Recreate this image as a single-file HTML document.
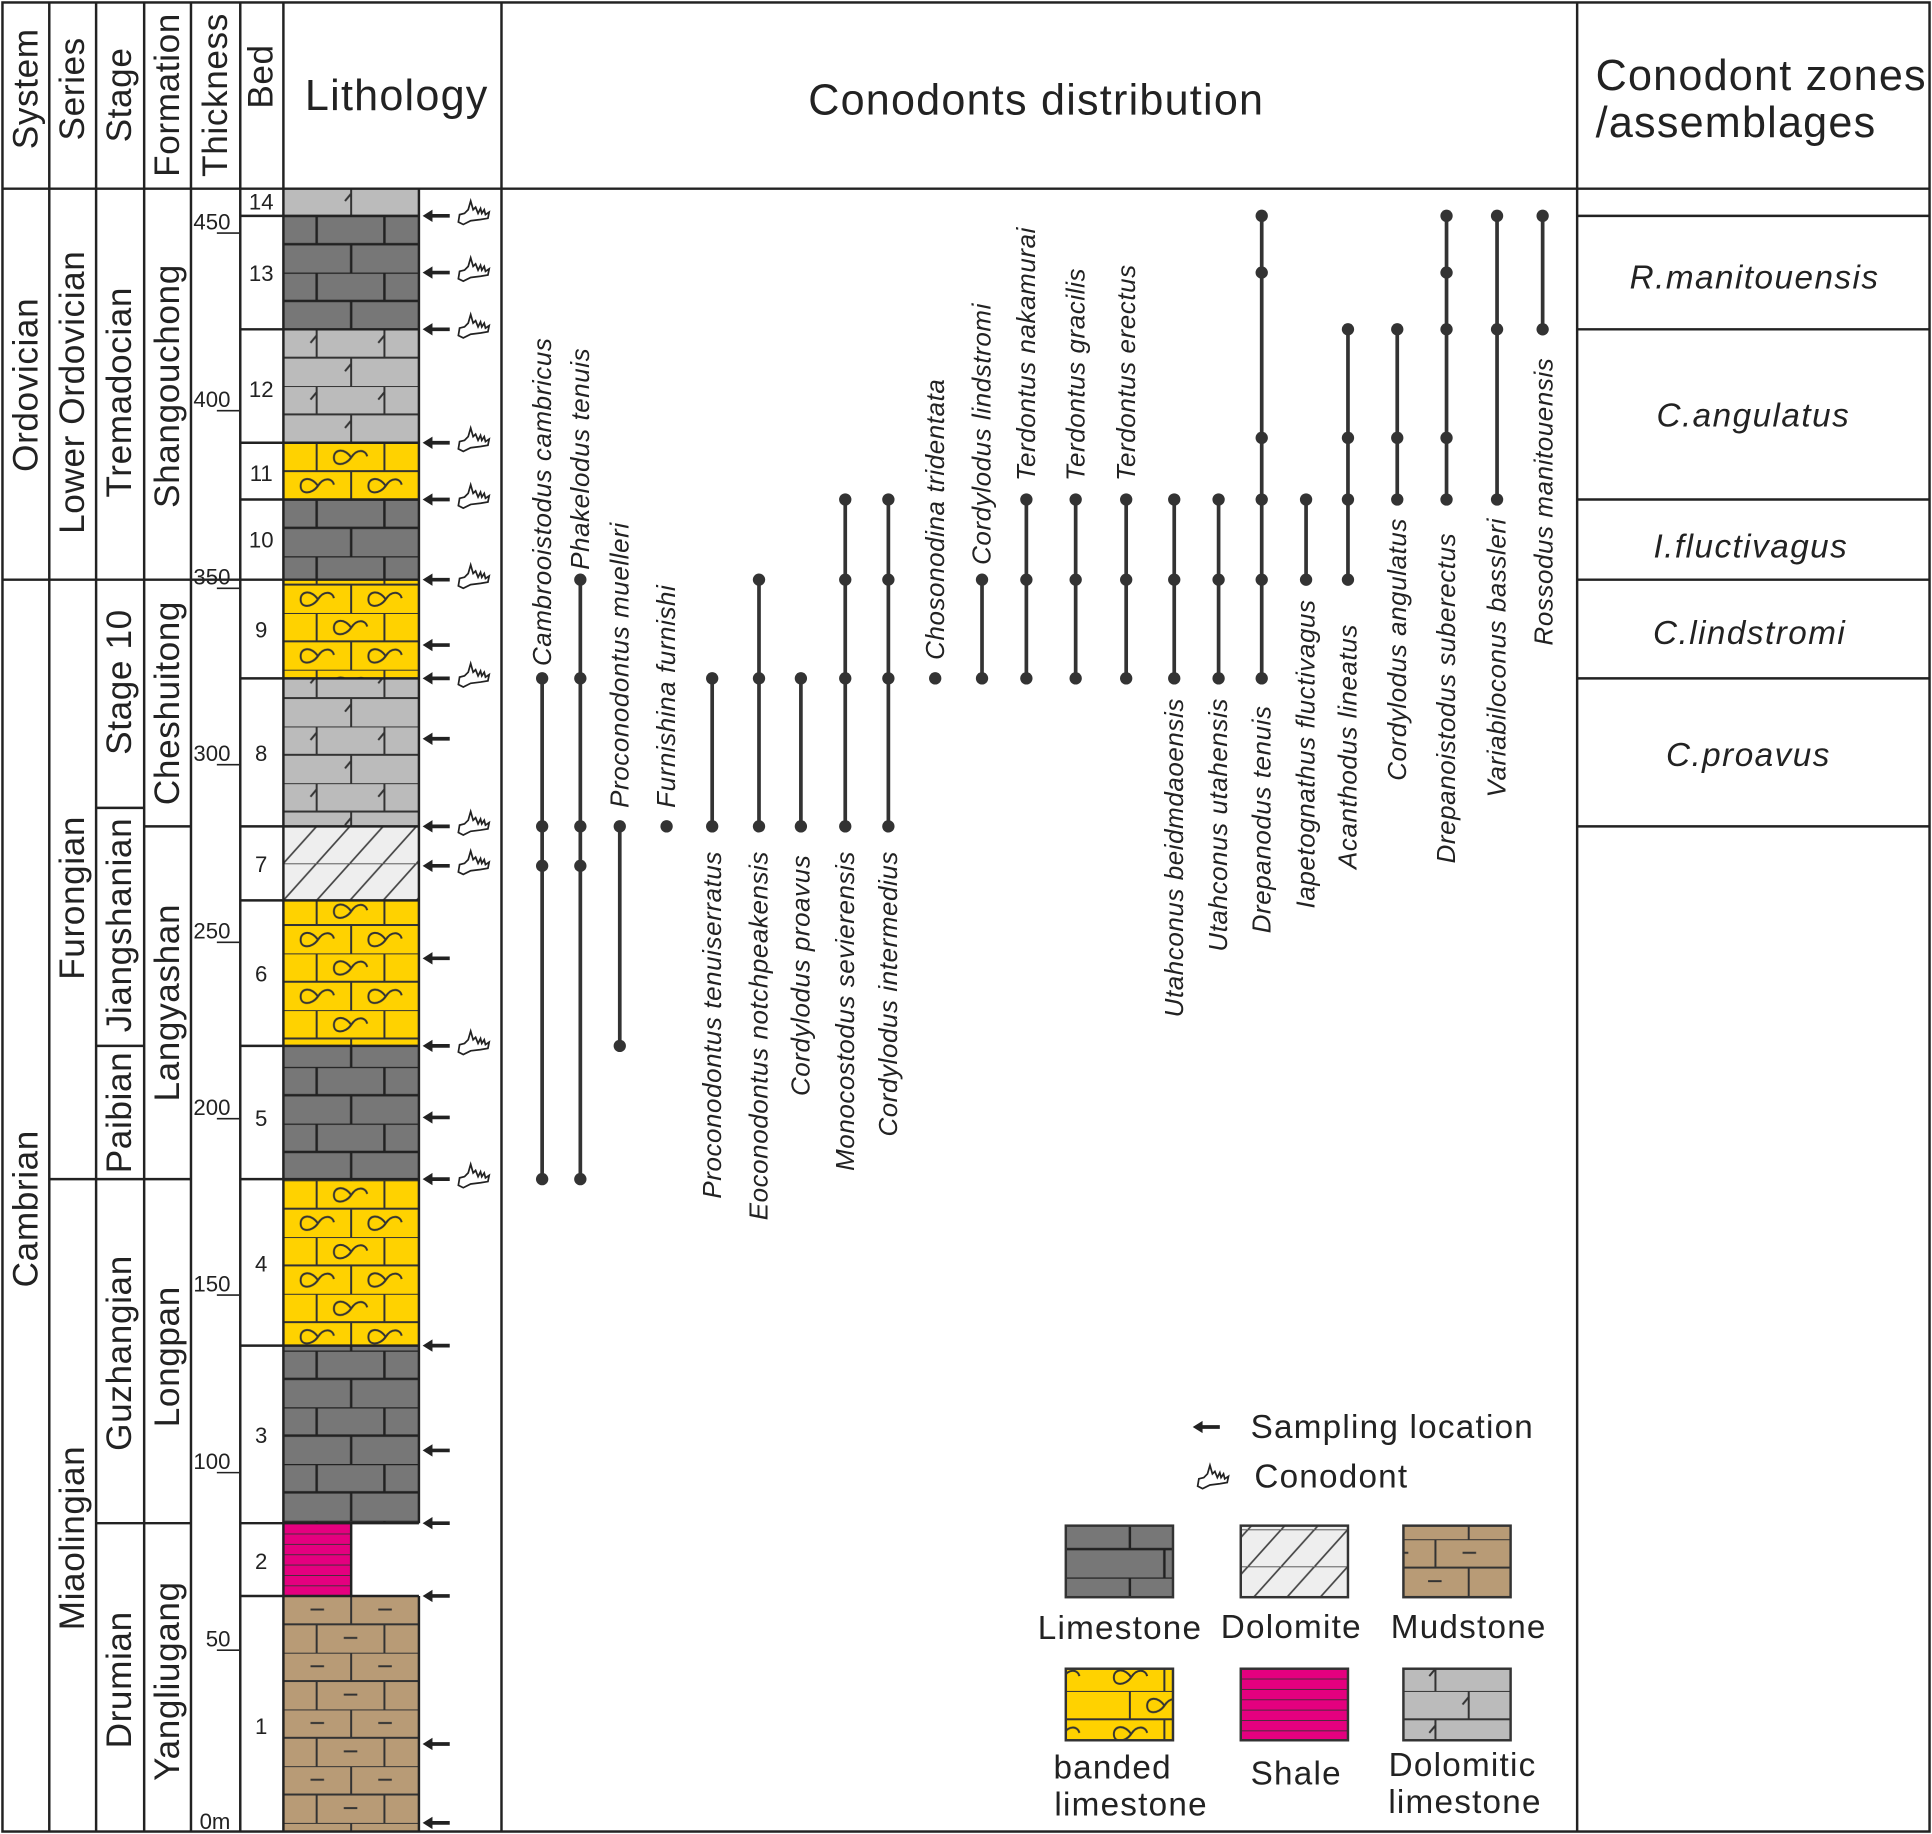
<!DOCTYPE html>
<html><head><meta charset="utf-8"><style>
html,body{margin:0;padding:0;background:#fff;}
svg{display:block;}
text{font-family:"Liberation Sans",Arial,sans-serif;fill:#222;}
.h{font-size:35px;letter-spacing:1px;}
.c{font-size:28.5px;letter-spacing:0.5px;}
.n{font-size:18px;}
.sp{font-size:21px;font-style:italic;letter-spacing:0.5px;}
.z{font-size:27px;font-style:italic;letter-spacing:1.2px;}
.lg{font-size:27px;letter-spacing:1px;}
</style></head><body>
<svg width="1932" height="1834" viewBox="0 0 1568 1487" preserveAspectRatio="none" xmlns="http://www.w3.org/2000/svg">
<defs>
<pattern id="lime" patternUnits="userSpaceOnUse" x="230" y="175" width="110" height="46">
<rect width="110" height="46" fill="#777"/>
<g stroke="#222" stroke-width="2"><line x1="0" y1="0" x2="110" y2="0"/><line x1="0" y1="23" x2="110" y2="23"/>
<line x1="27" y1="0" x2="27" y2="23"/><line x1="82" y1="0" x2="82" y2="23"/><line x1="55" y1="23" x2="55" y2="46"/></g>
</pattern>
<pattern id="dlime" patternUnits="userSpaceOnUse" x="230" y="175" width="110" height="46">
<rect width="110" height="46" fill="#bbb"/>
<g stroke="#333" stroke-width="1.6" fill="none"><line x1="0" y1="0" x2="110" y2="0"/><line x1="0" y1="23" x2="110" y2="23"/>
<line x1="27" y1="0" x2="27" y2="23"/><line x1="82" y1="0" x2="82" y2="23"/><line x1="55" y1="23" x2="55" y2="46"/>
<path d="M22,11 L27,5"/><path d="M77,11 L82,5"/><path d="M50,34 L55,28"/></g>
</pattern>
<pattern id="band" patternUnits="userSpaceOnUse" x="230" y="359" width="110" height="46">
<rect width="110" height="46" fill="#ffd200"/>
<g stroke="#333" stroke-width="1.6" fill="none"><line x1="0" y1="0" x2="110" y2="0"/><line x1="0" y1="23" x2="110" y2="23"/>
<line x1="27" y1="0" x2="27" y2="23"/><line x1="82" y1="0" x2="82" y2="23"/><line x1="55" y1="23" x2="55" y2="46"/>
<path d="M55,12 c-5,-8 -14,-7 -14,0 c0,7 9,7 14,0 c5,-8 12,-6 13,-1"/>
<path d="M28,35 c-5,-8 -14,-7 -14,0 c0,7 9,7 14,0 c5,-8 12,-6 13,-1"/>
<path d="M83,35 c-5,-8 -14,-7 -14,0 c0,7 9,7 14,0 c5,-8 12,-6 13,-1"/></g>
</pattern>
<pattern id="mud" patternUnits="userSpaceOnUse" x="230" y="1294" width="110" height="46">
<rect width="110" height="46" fill="#b89b76"/>
<g stroke="#333" stroke-width="1.6"><line x1="0" y1="0" x2="110" y2="0"/><line x1="0" y1="23" x2="110" y2="23"/>
<line x1="55" y1="0" x2="55" y2="23"/><line x1="27" y1="23" x2="27" y2="46"/><line x1="82" y1="23" x2="82" y2="46"/>
<line x1="22" y1="11" x2="33" y2="11"/><line x1="77" y1="11" x2="88" y2="11"/><line x1="49" y1="34" x2="60" y2="34"/></g>
</pattern>
<pattern id="dolo" patternUnits="userSpaceOnUse" x="230" y="670" width="27" height="30">
<rect width="27" height="30" fill="#eee"/>
<g stroke="#444" stroke-width="1.4"><line x1="0" y1="0" x2="27" y2="0"/><line x1="0" y1="30" x2="27" y2="0"/><line x1="-27" y1="30" x2="0" y2="0"/><line x1="27" y1="30" x2="54" y2="0"/></g>
</pattern>
<pattern id="shale" patternUnits="userSpaceOnUse" x="0" y="1235" width="10" height="8.4">
<rect width="10" height="8.4" fill="#e4007f"/><line x1="0" y1="0" x2="10" y2="0" stroke="#333" stroke-width="1.4"/>
</pattern>
<symbol id="arr" overflow="visible"><line x1="4" y1="0" x2="22" y2="0" stroke="#222" stroke-width="3"/><path d="M0,0 L8,-5 L8,5 Z" fill="#222"/></symbol>
<symbol id="cono" overflow="visible"><path d="M0,5 L1,-1 L5,-2 L8,-5 L10,-12 L12,-5 L14,-7 L16,-2 L18,-6 L19,-2 L21,-5 L22,-1 L25,-3 L24,2 L18,3 L10,4 L4,7 Z" fill="#fff" stroke="#222" stroke-width="1.4"/></symbol>
</defs>

<rect x="230" y="153" width="110" height="22" fill="url(#dlime)"/>
<rect x="230" y="175" width="110" height="92" fill="url(#lime)"/>
<rect x="230" y="267" width="110" height="92" fill="url(#dlime)"/>
<rect x="230" y="359" width="110" height="46" fill="url(#band)"/>
<rect x="230" y="405" width="110" height="65" fill="url(#lime)"/>
<rect x="230" y="470" width="110" height="80" fill="url(#band)"/>
<rect x="230" y="550" width="110" height="120" fill="url(#dlime)"/>
<rect x="230" y="670" width="110" height="60" fill="url(#dolo)"/>
<rect x="230" y="730" width="110" height="118" fill="url(#band)"/>
<rect x="230" y="848" width="110" height="108" fill="url(#lime)"/>
<rect x="230" y="956" width="110" height="135" fill="url(#band)"/>
<rect x="230" y="1091" width="110" height="144" fill="url(#lime)"/>
<rect x="230" y="1235" width="55" height="59" fill="url(#shale)"/>
<rect x="230" y="1294" width="110" height="191" fill="url(#mud)"/>
<g stroke="#222" stroke-width="2" fill="none">
<path d="M230,175H340M230,267H340M230,359H340M230,405H340M230,470H340M230,550H340M230,670H340M230,730H340M230,848H340M230,956H340M230,1091H340M230,1235H340M230,1294H340"/>
<path d="M340,153V1235M285,1235V1294M340,1294V1485"/>
</g>

<g stroke="#222" stroke-width="2" fill="none">
<rect x="2" y="2" width="1564" height="1483"/>
<line x1="2" y1="153" x2="1566" y2="153"/>
<path d="M40,2V1485M78,2V1485M117,2V1485M155,2V1485M195,2V1485M230,2V1485M407,2V1485M1280,2V1485"/>
<path d="M2,470H230M40,956H155M78,655H117M117,670H155M78,848H117M78,1235H155"/>
<path d="M195,175H230M195,267H230M195,359H230M195,405H230M195,550H230M195,670H230M195,730H230M195,848H230M195,956H230M195,1091H230M195,1235H230M195,1294H230"/>
<path d="M1280,175H1566M1280,267H1566M1280,405H1566M1280,470H1566M1280,550H1566M1280,670H1566"/>
<path stroke-width="1.3" d="M176,189H194M176,333H194M176,477H194M176,620H194M176,764H194M176,907H194M176,1050H194M176,1194H194M176,1338H194"/>
</g>

<g class="c">
<text transform="translate(21,72) rotate(-90)" text-anchor="middle" dominant-baseline="central">System</text>
<text transform="translate(59,72) rotate(-90)" text-anchor="middle" dominant-baseline="central">Series</text>
<text transform="translate(97,77) rotate(-90)" text-anchor="middle" dominant-baseline="central">Stage</text>
<text transform="translate(136,77) rotate(-90)" text-anchor="middle" dominant-baseline="central">Formation</text>
<text transform="translate(175,77) rotate(-90)" text-anchor="middle" dominant-baseline="central">Thickness</text>
<text transform="translate(212,62) rotate(-90)" text-anchor="middle" dominant-baseline="central">Bed</text>
</g>
<text class="h" x="322" y="89" text-anchor="middle">Lithology</text>
<text class="h" x="841" y="93" text-anchor="middle">Conodonts distribution</text>
<text class="h" x="1295" y="73">Conodont zones</text>
<text class="h" x="1295" y="111">/assemblages</text>

<g class="c">
<text transform="translate(21,312) rotate(-90)" text-anchor="middle" dominant-baseline="central">Ordovician</text>
<text transform="translate(21,980) rotate(-90)" text-anchor="middle" dominant-baseline="central">Cambrian</text>
<text transform="translate(59,318) rotate(-90)" text-anchor="middle" dominant-baseline="central">Lower Ordovician</text>
<text transform="translate(59,728) rotate(-90)" text-anchor="middle" dominant-baseline="central">Furongian</text>
<text transform="translate(59,1247) rotate(-90)" text-anchor="middle" dominant-baseline="central">Miaolingian</text>
<text transform="translate(97,318) rotate(-90)" text-anchor="middle" dominant-baseline="central">Tremadocian</text>
<text transform="translate(97,553) rotate(-90)" text-anchor="middle" dominant-baseline="central">Stage 10</text>
<text transform="translate(97,750) rotate(-90)" text-anchor="middle" dominant-baseline="central">Jiangshanian</text>
<text transform="translate(97,902) rotate(-90)" text-anchor="middle" dominant-baseline="central">Paibian</text>
<text transform="translate(97,1097) rotate(-90)" text-anchor="middle" dominant-baseline="central">Guzhangian</text>
<text transform="translate(97,1362) rotate(-90)" text-anchor="middle" dominant-baseline="central">Drumian</text>
<text transform="translate(136,313) rotate(-90)" text-anchor="middle" dominant-baseline="central">Shangouchong</text>
<text transform="translate(136,570) rotate(-90)" text-anchor="middle" dominant-baseline="central">Cheshuitong</text>
<text transform="translate(136,813) rotate(-90)" text-anchor="middle" dominant-baseline="central">Langyashan</text>
<text transform="translate(136,1100) rotate(-90)" text-anchor="middle" dominant-baseline="central">Longpan</text>
<text transform="translate(136,1363) rotate(-90)" text-anchor="middle" dominant-baseline="central">Yangliugang</text>
</g>

<g class="n">
<text x="157" y="186">450</text><text x="157" y="330">400</text><text x="157" y="474">350</text><text x="157" y="617">300</text>
<text x="157" y="761">250</text><text x="157" y="904">200</text><text x="157" y="1047">150</text><text x="157" y="1191">100</text>
<text x="167" y="1335">50</text><text x="162" y="1483">0m</text>
</g>
<g class="n" text-anchor="middle">
<text x="212" y="170">14</text><text x="212" y="228">13</text><text x="212" y="322">12</text><text x="212" y="390">11</text>
<text x="212" y="444">10</text><text x="212" y="517">9</text><text x="212" y="617">8</text><text x="212" y="707">7</text>
<text x="212" y="796">6</text><text x="212" y="913">5</text><text x="212" y="1031">4</text><text x="212" y="1170">3</text>
<text x="212" y="1272">2</text><text x="212" y="1406">1</text>
</g>

<g>
<use href="#arr" x="343" y="175"/><use href="#arr" x="343" y="221"/><use href="#arr" x="343" y="267"/><use href="#arr" x="343" y="359"/>
<use href="#arr" x="343" y="405"/><use href="#arr" x="343" y="470"/><use href="#arr" x="343" y="523"/><use href="#arr" x="343" y="550"/>
<use href="#arr" x="343" y="599"/><use href="#arr" x="343" y="670"/><use href="#arr" x="343" y="702"/><use href="#arr" x="343" y="777"/>
<use href="#arr" x="343" y="848"/><use href="#arr" x="343" y="906"/><use href="#arr" x="343" y="956"/><use href="#arr" x="343" y="1091"/>
<use href="#arr" x="343" y="1176"/><use href="#arr" x="343" y="1235"/><use href="#arr" x="343" y="1294"/><use href="#arr" x="343" y="1414"/>
<use href="#arr" x="343" y="1478"/>
<use href="#cono" x="372" y="175"/><use href="#cono" x="372" y="221"/><use href="#cono" x="372" y="267"/><use href="#cono" x="372" y="359"/>
<use href="#cono" x="372" y="405"/><use href="#cono" x="372" y="470"/><use href="#cono" x="372" y="550"/><use href="#cono" x="372" y="670"/>
<use href="#cono" x="372" y="702"/><use href="#cono" x="372" y="848"/><use href="#cono" x="372" y="956"/>
</g>

<g stroke="#333" stroke-width="3">
<path d="M440,550V956M471,470V956M503,670V848M578,550V670M616,470V670M650,550V670M686,405V670M721,405V670M797,470V550M833,405V550M873,405V550M914,405V550M953,405V550M989,405V550M1024,175V550M1060,405V470M1094,267V470M1134,267V405M1174,175V405M1215,175V405M1252,175V267"/>
</g>
<g fill="#333">
<circle cx="440" cy="550" r="5"/><circle cx="440" cy="670" r="5"/><circle cx="440" cy="702" r="5"/><circle cx="440" cy="956" r="5"/>
<circle cx="471" cy="470" r="5"/><circle cx="471" cy="550" r="5"/><circle cx="471" cy="670" r="5"/><circle cx="471" cy="702" r="5"/><circle cx="471" cy="956" r="5"/>
<circle cx="503" cy="670" r="5"/><circle cx="503" cy="848" r="5"/>
<circle cx="541" cy="670" r="5"/>
<circle cx="578" cy="550" r="5"/><circle cx="578" cy="670" r="5"/>
<circle cx="616" cy="470" r="5"/><circle cx="616" cy="550" r="5"/><circle cx="616" cy="670" r="5"/>
<circle cx="650" cy="550" r="5"/><circle cx="650" cy="670" r="5"/>
<circle cx="686" cy="405" r="5"/><circle cx="686" cy="470" r="5"/><circle cx="686" cy="550" r="5"/><circle cx="686" cy="670" r="5"/>
<circle cx="721" cy="405" r="5"/><circle cx="721" cy="470" r="5"/><circle cx="721" cy="550" r="5"/><circle cx="721" cy="670" r="5"/>
<circle cx="759" cy="550" r="5"/>
<circle cx="797" cy="470" r="5"/><circle cx="797" cy="550" r="5"/>
<circle cx="833" cy="405" r="5"/><circle cx="833" cy="470" r="5"/><circle cx="833" cy="550" r="5"/>
<circle cx="873" cy="405" r="5"/><circle cx="873" cy="470" r="5"/><circle cx="873" cy="550" r="5"/>
<circle cx="914" cy="405" r="5"/><circle cx="914" cy="470" r="5"/><circle cx="914" cy="550" r="5"/>
<circle cx="953" cy="405" r="5"/><circle cx="953" cy="470" r="5"/><circle cx="953" cy="550" r="5"/>
<circle cx="989" cy="405" r="5"/><circle cx="989" cy="470" r="5"/><circle cx="989" cy="550" r="5"/>
<circle cx="1024" cy="175" r="5"/><circle cx="1024" cy="221" r="5"/><circle cx="1024" cy="355" r="5"/><circle cx="1024" cy="405" r="5"/><circle cx="1024" cy="470" r="5"/><circle cx="1024" cy="550" r="5"/>
<circle cx="1060" cy="405" r="5"/><circle cx="1060" cy="470" r="5"/>
<circle cx="1094" cy="267" r="5"/><circle cx="1094" cy="355" r="5"/><circle cx="1094" cy="405" r="5"/><circle cx="1094" cy="470" r="5"/>
<circle cx="1134" cy="267" r="5"/><circle cx="1134" cy="355" r="5"/><circle cx="1134" cy="405" r="5"/>
<circle cx="1174" cy="175" r="5"/><circle cx="1174" cy="221" r="5"/><circle cx="1174" cy="267" r="5"/><circle cx="1174" cy="355" r="5"/><circle cx="1174" cy="405" r="5"/>
<circle cx="1215" cy="175" r="5"/><circle cx="1215" cy="267" r="5"/><circle cx="1215" cy="405" r="5"/>
<circle cx="1252" cy="175" r="5"/><circle cx="1252" cy="267" r="5"/>
</g>

<g class="sp">
<text transform="translate(447,540) rotate(-90)">Cambrooistodus cambricus</text>
<text transform="translate(478,462) rotate(-90)">Phakelodus tenuis</text>
<text transform="translate(510,655) rotate(-90)">Proconodontus muelleri</text>
<text transform="translate(548,655) rotate(-90)">Furnishina furnishi</text>
<text transform="translate(585,690) rotate(-90)" text-anchor="end">Proconodontus tenuiserratus</text>
<text transform="translate(623,690) rotate(-90)" text-anchor="end">Eoconodontus notchpeakensis</text>
<text transform="translate(657,693) rotate(-90)" text-anchor="end">Cordylodus proavus</text>
<text transform="translate(693,690) rotate(-90)" text-anchor="end">Monocostodus sevierensis</text>
<text transform="translate(728,690) rotate(-90)" text-anchor="end">Cordylodus intermedius</text>
<text transform="translate(766,535) rotate(-90)">Chosonodina tridentata</text>
<text transform="translate(804,458) rotate(-90)">Cordylodus lindstromi</text>
<text transform="translate(840,390) rotate(-90)">Terdontus nakamurai</text>
<text transform="translate(880,390) rotate(-90)">Terdontus gracilis</text>
<text transform="translate(921,390) rotate(-90)">Terdontus erectus</text>
<text transform="translate(960,566) rotate(-90)" text-anchor="end">Utahconus beidmdaoensis</text>
<text transform="translate(996,566) rotate(-90)" text-anchor="end">Utahconus utahensis</text>
<text transform="translate(1031,572) rotate(-90)" text-anchor="end">Drepanodus tenuis</text>
<text transform="translate(1067,486) rotate(-90)" text-anchor="end">Iapetognathus fluctivagus</text>
<text transform="translate(1101,506) rotate(-90)" text-anchor="end">Acanthodus lineatus</text>
<text transform="translate(1141,420) rotate(-90)" text-anchor="end">Cordylodus angulatus</text>
<text transform="translate(1181,432) rotate(-90)" text-anchor="end">Drepanoistodus suberectus</text>
<text transform="translate(1222,420) rotate(-90)" text-anchor="end">Variabiloconus bassleri</text>
<text transform="translate(1260,290) rotate(-90)" text-anchor="end">Rossodus manitouensis</text>
</g>

<g class="z" text-anchor="middle">
<text x="1424" y="234">R.manitouensis</text>
<text x="1423" y="346">C.angulatus</text>
<text x="1421" y="452">I.fluctivagus</text>
<text x="1420" y="522">C.lindstromi</text>
<text x="1419" y="621">C.proavus</text>
</g>

<use href="#arr" x="968" y="1157"/>
<text class="lg" x="1015" y="1166">Sampling location</text>
<use href="#cono" x="972" y="1200"/>
<text class="lg" x="1018" y="1206">Conodont</text>
<g stroke="#333" stroke-width="2">
<rect x="865" y="1237" width="87" height="58" fill="url(#lime)"/>
<rect x="1007" y="1237" width="87" height="58" fill="url(#dolo)"/>
<rect x="1139" y="1237" width="87" height="58" fill="url(#mud)"/>
<rect x="865" y="1353" width="87" height="58" fill="url(#band)"/>
<rect x="1007" y="1353" width="87" height="58" fill="url(#shale)"/>
<rect x="1139" y="1353" width="87" height="58" fill="url(#dlime)"/>
</g>
<g class="lg" text-anchor="middle">
<text x="909" y="1329">Limestone</text>
<text x="1048" y="1328">Dolomite</text>
<text x="1192" y="1328">Mudstone</text>
<text x="903" y="1442">banded</text>
<text x="918" y="1472">limestone</text>
<text x="1052" y="1447">Shale</text>
<text x="1187" y="1440">Dolomitic</text>
<text x="1189" y="1470">limestone</text>
</g>
</svg>
</body></html>
